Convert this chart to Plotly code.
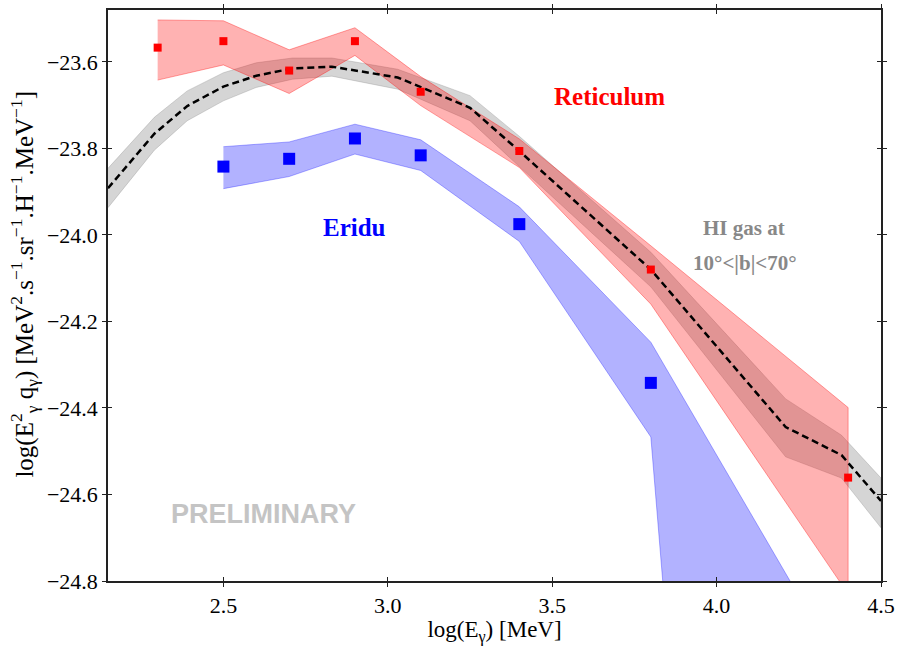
import plotly.graph_objects as go

# ---------------- data ----------------
# Reticulum (red)
ret_x = [2.3, 2.5, 2.7, 2.9, 3.1, 3.4, 3.8, 4.4]
ret_y = [-23.567, -23.552, -23.620, -23.552, -23.669, -23.806, -24.080, -24.561]
ret_hi = [-23.503, -23.505, -23.572, -23.521, -23.634, -23.778, -24.025, -24.399]
ret_lo = [-23.642, -23.607, -23.673, -23.585, -23.701, -23.844, -24.160, -24.830]

# Eridu (blue)
eri_x = [2.5, 2.7, 2.9, 3.1, 3.4, 3.8]
eri_y = [-23.842, -23.824, -23.777, -23.816, -23.975, -24.342]
eri_band_x = [2.5, 2.7, 2.9, 3.1, 3.4, 3.8, 4.4]
eri_hi = [-23.796, -23.785, -23.744, -23.780, -23.935, -24.248, -25.030]
eri_lo = [-23.893, -23.865, -23.813, -23.851, -24.015, -24.467, -30.000]

# HI gas model at 10°<|b|<70° (gray band + dashed line)
hi_x = [2.149, 2.29, 2.39, 2.50, 2.60, 2.71, 2.83, 3.03, 3.25, 3.40, 3.80, 4.21, 4.38, 4.50]
hi_y = [-23.892, -23.766, -23.702, -23.657, -23.632, -23.615, -23.611, -23.636, -23.706,
        -23.806, -24.080, -24.444, -24.509, -24.615]
hi_hi = [-23.846, -23.728, -23.667, -23.625, -23.602, -23.591, -23.591, -23.617, -23.678,
         -23.772, -24.040, -24.379, -24.463, -24.562]
hi_lo = [-23.937, -23.804, -23.736, -23.690, -23.659, -23.640, -23.633, -23.663, -23.736,
         -23.842, -24.120, -24.513, -24.562, -24.677]

x_ticks = [2.5, 3.0, 3.5, 4.0, 4.5]
x_ticklabels = ["2.5", "3.0", "3.5", "4.0", "4.5"]
y_ticks = [-23.6, -23.8, -24.0, -24.2, -24.4, -24.6, -24.8]
y_ticklabels = ["\u221223.6", "\u221223.8", "\u221224.0", "\u221224.2", "\u221224.4", "\u221224.6", "\u221224.8"]

X_RANGE = [2.149, 4.5]
Y_RANGE = [-24.8, -23.48]

FONT = "Liberation Serif"


def band(x, lo, hi):
    return list(x) + list(x)[::-1], list(hi) + list(lo)[::-1]


fig = go.Figure()

bx, by = band(hi_x, hi_lo, hi_hi)
fig.add_trace(go.Scatter(x=bx, y=by, fill="toself", mode="lines",
                         fillcolor="rgba(128,128,128,0.33)",
                         line=dict(color="rgba(128,128,128,0.3)", width=1),
                         hoverinfo="skip", showlegend=False))

bx, by = band(ret_x, ret_lo, ret_hi)
fig.add_trace(go.Scatter(x=bx, y=by, fill="toself", mode="lines",
                         fillcolor="rgba(255,0,0,0.3)",
                         line=dict(color="rgba(255,0,0,0.35)", width=1),
                         hoverinfo="skip", showlegend=False))

bx, by = band(eri_band_x, eri_lo, eri_hi)
fig.add_trace(go.Scatter(x=bx, y=by, fill="toself", mode="lines",
                         fillcolor="rgba(0,0,255,0.3)",
                         line=dict(color="rgba(0,0,255,0.3)", width=1),
                         hoverinfo="skip", showlegend=False))

fig.add_trace(go.Scatter(x=hi_x, y=hi_y, mode="lines",
                         line=dict(color="black", width=2.5, dash="7px,4px"),
                         showlegend=False))

fig.add_trace(go.Scatter(x=ret_x, y=ret_y, mode="markers",
                         marker=dict(symbol="square", size=8, color="#ff0000", line=dict(width=0)),
                         showlegend=False))
fig.add_trace(go.Scatter(x=eri_x, y=eri_y, mode="markers",
                         marker=dict(symbol="square", size=12, color="#0000ff", line=dict(width=0)),
                         showlegend=False))

# invisible trace to carry the inner-tick overlay axes
fig.add_trace(go.Scatter(x=[X_RANGE[0]], y=[Y_RANGE[0]], xaxis="x2", yaxis="y2",
                         mode="markers", marker=dict(opacity=0), hoverinfo="skip",
                         showlegend=False))

axis_common = dict(showgrid=False, zeroline=False, showline=True, linecolor="#222",
                   linewidth=1.5, ticks="outside", ticklen=4, tickwidth=1.3,
                   tickcolor="#222", mirror="ticks",
                   tickfont=dict(family=FONT, size=22, color="black"))

fig.update_layout(
    width=899, height=646,
    margin=dict(l=108, r=15, t=4, b=65),
    paper_bgcolor="white", plot_bgcolor="white",
    font=dict(family=FONT, color="black"),
    xaxis=dict(range=X_RANGE, tickvals=x_ticks, ticktext=x_ticklabels,
               title=dict(text="log(E<sub>\u03b3</sub>) [MeV]",
                          font=dict(family=FONT, size=23), standoff=0),
               **axis_common),
    yaxis=dict(range=Y_RANGE, tickvals=y_ticks, ticktext=y_ticklabels,
               **axis_common),
    xaxis2=dict(range=X_RANGE, overlaying="x", tickvals=x_ticks, showticklabels=False,
                showgrid=False, zeroline=False, showline=False, ticks="inside",
                ticklen=4, tickwidth=1.3, tickcolor="#222", mirror="ticks"),
    yaxis2=dict(range=Y_RANGE, overlaying="y", tickvals=y_ticks, showticklabels=False,
                showgrid=False, zeroline=False, showline=False, ticks="inside",
                ticklen=4, tickwidth=1.3, tickcolor="#222", mirror="ticks"),
    showlegend=False,
)

# y-axis title as a rotated annotation (precise placement)
fig.add_annotation(xref="paper", yref="paper", x=-0.108, y=0.52,
                   text="log(E<sup>2</sup><sub>\u03b3</sub> q<sub>\u03b3</sub>) "
                        "[MeV<sup>2</sup>.s<sup>\u22121</sup>.sr<sup>\u22121</sup>."
                        "H<sup>\u22121</sup>.MeV<sup>\u22121</sup>]",
                   textangle=-90, showarrow=False, xanchor="center", yanchor="middle",
                   font=dict(family=FONT, size=25, color="black"))

fig.add_annotation(x=3.675, y=-23.681, text="<b>Reticulum</b>", showarrow=False,
                   font=dict(family=FONT, size=25, color="#ff0000"))
fig.add_annotation(x=2.90, y=-23.983, text="<b>Eridu</b>", showarrow=False,
                   font=dict(family=FONT, size=25, color="#0000ff"))
fig.add_annotation(x=4.084, y=-23.985, text="<b>HI gas at</b>", showarrow=False,
                   font=dict(family=FONT, size=21, color="#888888"))
fig.add_annotation(x=4.087, y=-24.065, text="<b>10\u00b0&lt;|b|&lt;70\u00b0</b>", showarrow=False,
                   font=dict(family=FONT, size=21, color="#888888"))
fig.add_annotation(x=2.621, y=-24.645, text="<b>PRELIMINARY</b>", showarrow=False,
                   font=dict(family="Liberation Sans", size=27, color="#c4c4c4"))

fig.write_html("out.html", config={"displayModeBar": False},
               post_script="document.body.style.margin='0';document.body.style.overflow='hidden';")
